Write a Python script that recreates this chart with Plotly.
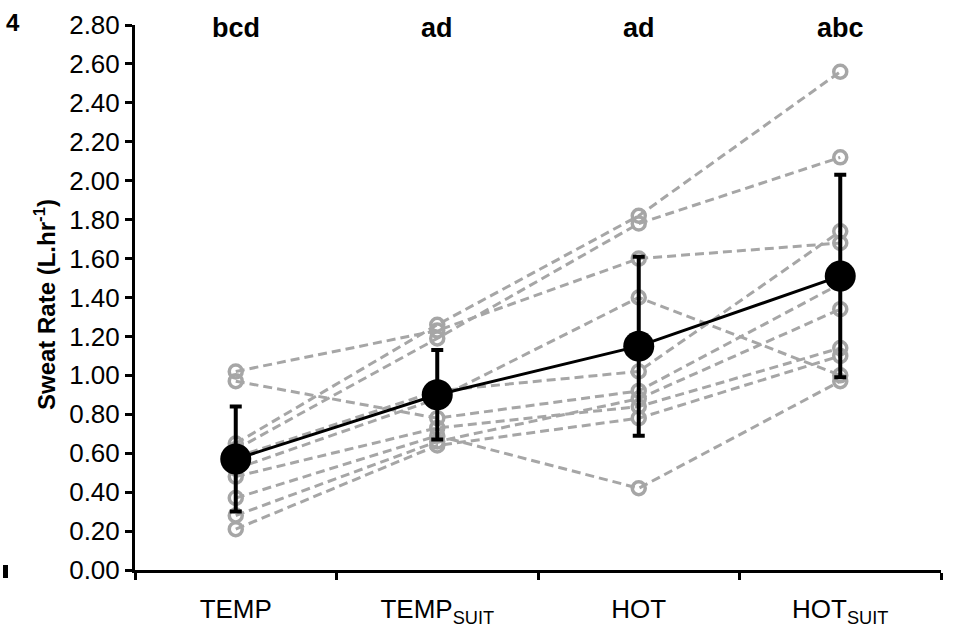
import plotly.graph_objects as go

categories = ["TEMP", "TEMP_SUIT", "HOT", "HOT_SUIT"]
tick_labels = ["TEMP", "TEMP<sub>SUIT</sub>", "HOT", "HOT<sub>SUIT</sub>"]
sig_letters = ["bcd", "ad", "ad", "abc"]

# individual participants (TEMP, TEMP_SUIT, HOT, HOT_SUIT)
s1 = [1.02, 1.23, 1.60, 1.68]
s2 = [0.97, 0.78, 0.92, 1.47]
s3 = [0.65, 1.26, 1.82, 2.56]
s4 = [0.62, 1.19, 1.78, 2.12]
s5 = [0.58, 0.92, 1.02, 1.74]
s6 = [0.52, 0.88, 1.40, 1.00]
s7 = [0.48, 0.73, 0.84, 1.14]
s8 = [0.37, 0.69, 0.42, 0.97]
s9 = [0.28, 0.66, 0.88, 1.34]
s10 = [0.21, 0.64, 0.78, 1.10]
subjects = [s1, s2, s3, s4, s5, s6, s7, s8, s9, s10]

mean_vals = [0.57, 0.90, 1.15, 1.51]
sd_vals = [0.27, 0.23, 0.46, 0.52]

fig = go.Figure()
grey = "#a6a6a6"
for s in subjects:
    fig.add_trace(go.Scatter(
        x=categories, y=s, mode="lines+markers",
        line=dict(color=grey, width=3, dash="9px,5px"),
        marker=dict(symbol="circle-open", size=13, color=grey, line=dict(width=3.5, color=grey)),
        showlegend=False, hoverinfo="skip"))

fig.add_trace(go.Scatter(
    x=categories, y=mean_vals, mode="lines+markers",
    line=dict(color="black", width=3),
    marker=dict(symbol="circle", size=31, color="black"),
    error_y=dict(type="data", array=sd_vals, color="black", thickness=4, width=6),
    showlegend=False))

L, R, T, B = 135, 16, 25, 59
W, H = 957, 629
pw = W - L - R
ph = H - T - B

fig.update_layout(
    width=W, height=H,
    margin=dict(l=L, r=R, t=T, b=B, autoexpand=False),
    paper_bgcolor="white", plot_bgcolor="white",
    font=dict(family="Liberation Sans, Arial, sans-serif", color="black", size=26),
    xaxis=dict(
        type="category", categoryorder="array", categoryarray=categories,
        tickvals=categories, ticktext=tick_labels, tickson="boundaries",
        range=[-0.5, 3.5], automargin=False,
        showline=True, linecolor="black", linewidth=3,
        ticks="outside", ticklen=7, tickwidth=3, tickcolor="black",
        showgrid=False, zeroline=False,
        tickfont=dict(size=26), ticklabelstandoff=14,
    ),
    yaxis=dict(
        range=[0, 2.8], tickvals=[i * 0.2 for i in range(15)], tickformat=".2f",
        automargin=False,
        showline=True, linecolor="black", linewidth=3,
        ticks="outside", ticklen=7, tickwidth=3, tickcolor="black",
        showgrid=False, zeroline=False,
        tickfont=dict(size=26),
    ),
)

for cat, letter in zip(categories, sig_letters):
    fig.add_annotation(x=cat, y=1.0, xref="x", yref="paper", text="<b>%s</b>" % letter,
                       showarrow=False, yanchor="middle", yshift=-3,
                       font=dict(size=27, color="black"))

fig.add_annotation(x=(45 - L) / pw, y=(H - B - 305) / ph, xref="paper", yref="paper",
                   text="<b>Sweat Rate (L.hr<sup>-1</sup>)</b>", textangle=-90,
                   showarrow=False, xanchor="center", yanchor="middle",
                   font=dict(size=24, color="black"))

fig.add_annotation(x=(13 - L) / pw, y=1.0, xref="paper", yref="paper",
                   text="<b>4</b>", showarrow=False, xanchor="center", yanchor="middle",
                   yshift=3, font=dict(family="Liberation Sans", size=24, color="black"))

fig.add_shape(type="rect", xref="paper", yref="paper",
              x0=(3 - L) / pw, x1=(8 - L) / pw,
              y0=(H - B - 578) / ph, y1=(H - B - 565) / ph,
              fillcolor="black", line=dict(width=0))

fig.write_html("out.html")
